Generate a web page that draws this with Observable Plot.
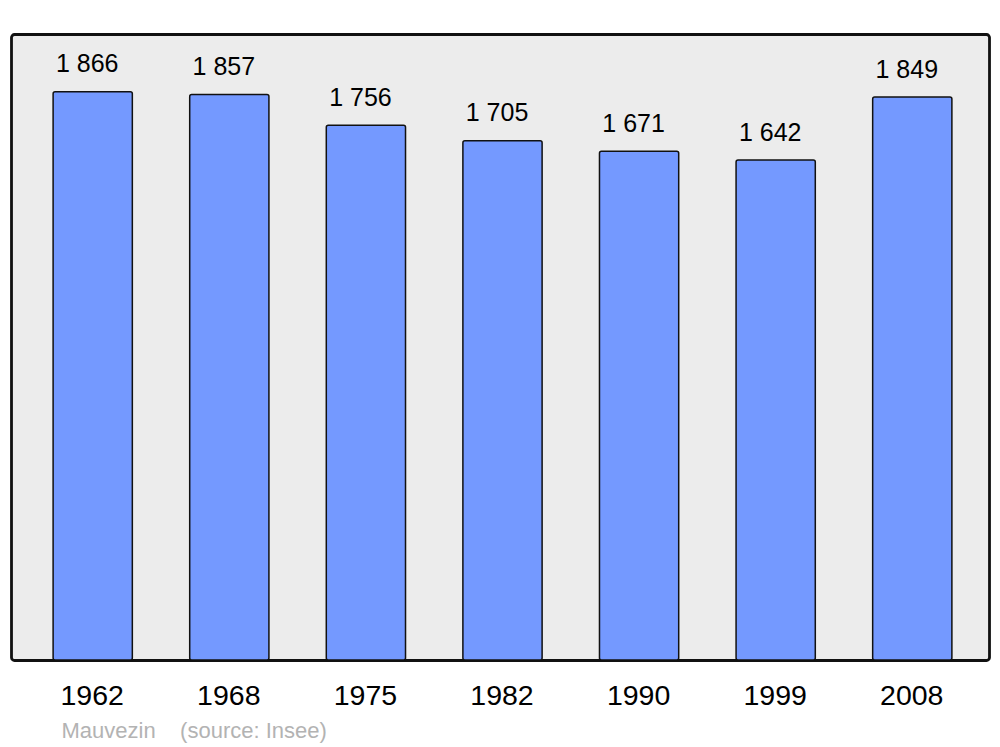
<!DOCTYPE html>
<html>
<head>
<meta charset="utf-8">
<script src="https://cdn.jsdelivr.net/npm/d3@7"></script>
<script src="https://cdn.jsdelivr.net/npm/@observablehq/plot@0.6"></script>
<style>
  html, body { margin: 0; padding: 0; background: #ffffff; }
  svg { display: block; }
</style>
</head>
<body>
<div id="chart"></div>
<script>
const years = ["1962", "1968", "1975", "1982", "1990", "1999", "2008"];
const population = [1866, 1857, 1756, 1705, 1671, 1642, 1849];
const town = "Mauvezin";
const source = "(source: Insee)";

const data = years.map((y, i) => ({year: y, pop: population[i], label: d3.format(",")(population[i]).replace(/,/g, " ")}));

const chart = Plot.plot({
  width: 1000,
  height: 747,
  marginTop: 34,
  marginBottom: 87,
  marginLeft: 11,
  marginRight: 11,
  style: {fontFamily: "'Liberation Sans', Arial, sans-serif", background: "#ffffff"},
  x: {domain: years, range: [13.5, 991.5], paddingInner: 0.42, paddingOuter: 0.29, round: false, axis: null},
  y: {domain: [0, 2056], axis: null},
  marks: [
    Plot.frame({fill: "#ececec", stroke: "#111111", strokeWidth: 2.8, rx: 3}),
    Plot.barY(data, {x: "year", y: "pop", fill: "#7499ff", stroke: "#111111", strokeWidth: 1.5, rx: 2}),
    Plot.text(data, {x: "year", y: "pop", text: "label", dx: -6, dy: -28, lineAnchor: "middle", fontSize: 25, fill: "#000000"}),
    Plot.text(data, {x: "year", text: "year", frameAnchor: "bottom", dx: -1, dy: 35, lineAnchor: "middle", fontSize: 28.5, fill: "#000000"}),
    Plot.text([town + "\u00a0\u00a0\u00a0\u00a0" + source], {text: d => d, frameAnchor: "bottom-left", dx: 50, dy: 70, textAnchor: "start", lineAnchor: "middle", fontSize: 22, fill: "#b3b3b3"})
  ]
});
document.getElementById("chart").appendChild(chart);
</script>
</body>
</html>
